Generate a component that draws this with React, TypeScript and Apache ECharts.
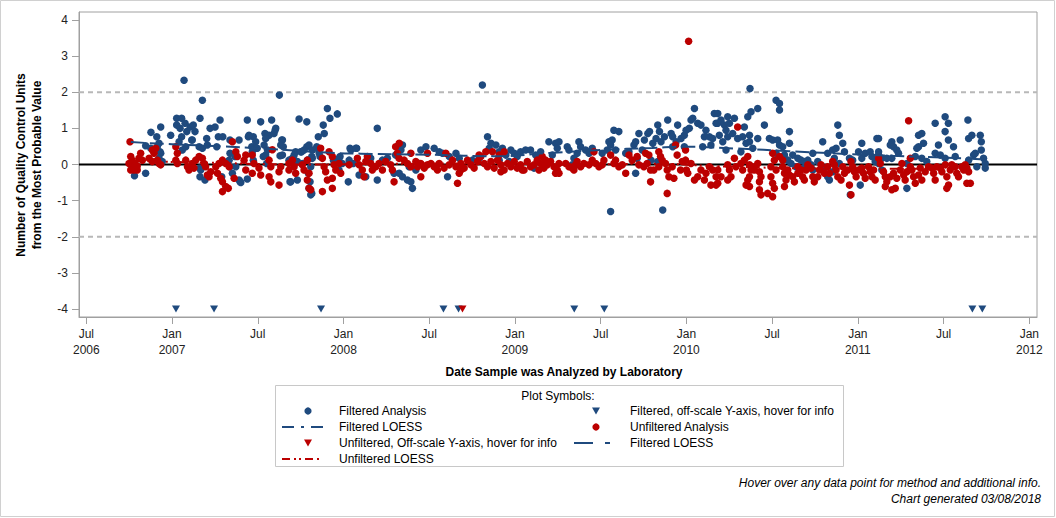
import React, { useEffect, useRef } from "react";
import * as echarts from "echarts";

const BLUE = "#1F4A7E";
const RED = "#BB0000";
const FONT = '"Liberation Sans", Arial, sans-serif';

const X_MIN = 2006.4574;
const X_MAX = 2012.0449;
const Y_MIN = -4.22;
const Y_MAX = 4.22;
const OFF_SCALE_Y = -4;

const xTickValues = [2006.5, 2007, 2007.5, 2008, 2008.5, 2009, 2009.5, 2010, 2010.5, 2011, 2011.5, 2012];
const yTickValues = [-4, -3, -2, -1, 0, 1, 2, 3, 4];
const refLines = [0, 2, -2];

// Filtered analysis points [decimal year, QC units]
const filtered2007 = [
  [2006.781, -0.31], [2006.846, -0.24], [2006.846, 0.52], [2006.877, 0.89], [2006.911, 0.77], [2006.934, 1.04],
  [2006.924, 0.59], [2006.93, 0.35], [2006.992, 0.81], [2007.027, 1.28], [2007.056, 1.28], [2007.07, 2.33],
  [2007.076, 1.14], [2007.047, 1.0], [2007.027, 1.09], [2007.086, 0.91], [2007.056, 0.77], [2007.105, 1.04],
  [2007.124, 1.09], [2007.134, 0.91], [2007.115, 0.68], [2007.163, 1.28], [2007.177, 1.78], [2007.202, 0.72],
  [2007.222, 1.0], [2007.251, 1.04], [2007.28, 1.23], [2007.27, 0.77], [2007.261, 0.49], [2007.296, 0.77],
  [2007.338, 0.68], [2007.338, 0.31], [2007.367, 0.22], [2007.163, -0.34], [2007.192, -0.43], [2007.163, -0.1],
  [2007.29, -0.34], [2007.338, -0.06], [2007.397, -0.48], [2006.876, 0.45], [2006.914, 0.49], [2006.934, 0.31],
  [2006.924, 0.17], [2006.943, 0.08], [2007.041, 0.63], [2007.08, 0.49], [2007.06, 0.4], [2007.158, 0.49],
  [2007.177, 0.45], [2007.206, 0.54], [2007.118, 0.68], [2007.333, 0.12], [2007.372, -0.06], [2007.352, -0.24],
  [2007.167, -0.15], [2007.439, 1.23], [2007.445, 0.77], [2007.474, 0.77], [2007.465, 0.49], [2007.49, 0.45],
  [2007.517, 1.18], [2007.542, 0.86], [2007.552, 0.77], [2007.581, 1.23], [2007.601, 0.95], [2007.626, 1.92],
  [2007.64, 0.68], [2007.649, 0.49], [2007.63, 0.24], [2007.474, 0.12], [2007.532, 0.22], [2007.552, 0.03],
  [2007.688, -0.48], [2007.707, 0.17], [2007.741, 1.26], [2007.786, 1.18], [2007.756, 0.35], [2007.786, 0.49],
  [2007.815, 0.22], [2007.844, 0.49], [2007.853, 0.77], [2007.882, 1.09], [2007.888, 0.86], [2007.906, 1.55],
  [2007.921, 1.28], [2007.964, 1.4], [2007.805, -0.48], [2007.795, -0.24], [2007.815, -0.8], [2007.863, 0.22],
  [2007.941, 0.12], [2007.98, 0.22], [2007.449, 0.81], [2007.488, 0.63], [2007.566, 0.81], [2007.546, 0.72],
  [2007.605, 1.0], [2007.595, 0.86], [2007.644, 0.68], [2007.634, 0.54], [2007.497, 0.45], [2007.468, 0.35],
  [2007.537, 0.54], [2007.557, 0.4], [2007.546, 0.26], [2007.391, 0.68], [2007.391, -0.43], [2007.644, 0.26],
  [2007.682, 0.12], [2007.712, 0.26], [2007.721, 0.35], [2007.75, 0.35], [2007.77, 0.4], [2007.799, 0.54],
  [2007.818, 0.4], [2007.848, 0.45], [2007.858, 0.31], [2007.702, 0.17], [2007.731, 0.08], [2007.76, 0.03],
  [2007.789, 0.12], [2007.818, 0.17], [2007.809, -0.06], [2007.692, -0.48], [2007.731, -0.43], [2007.809, -0.84],
  [2007.799, -0.66], [2007.401, -0.5], [2007.439, -0.4], [2007.974, 0.17], [2007.993, 0.03], [2007.974, -0.15],
];

const filtered2008 = [
  [2008.038, 0.45], [2008.077, 0.45], [2008.028, -0.48], [2008.057, 0.03], [2008.043, 0.4], [2008.072, 0.45],
  [2008.033, 0.12], [2008.197, 1.0], [2008.091, -0.29], [2008.13, -0.34], [2008.197, -0.43], [2008.159, 0.17],
  [2008.227, 0.12], [2008.256, 0.17], [2008.304, 0.26], [2008.295, -0.24], [2008.81, 2.2], [2008.325, -0.24],
  [2008.344, -0.34], [2008.373, -0.43], [2008.393, -0.48], [2008.402, -0.66], [2008.335, 0.4], [2008.344, 0.54],
  [2008.451, 0.4], [2008.481, 0.49], [2008.529, 0.45], [2008.558, 0.35], [2008.578, 0.31], [2008.617, 0.22],
  [2008.656, 0.31], [2008.675, 0.17], [2008.383, -0.06], [2008.422, -0.15], [2008.442, 0.03], [2008.607, -0.34],
  [2008.84, 0.77], [2008.86, 0.59], [2008.85, 0.45], [2008.889, 0.54], [2008.908, 0.35], [2008.927, 0.45],
  [2008.947, 0.26], [2008.976, 0.4], [2008.996, 0.31], [2009.013, 0.22], [2009.033, 0.35], [2009.062, 0.4],
  [2009.091, 0.4], [2009.121, 0.26], [2009.15, 0.35], [2009.198, 0.63], [2009.237, 0.59], [2009.247, 0.45],
  [2009.218, 0.26], [2008.752, 0.12], [2008.791, 0.17], [2008.908, 0.12], [2008.967, 0.08], [2009.111, -0.1],
  [2009.179, 0.03],
];

const filtered2009 = [
  [2009.257, 0.63], [2009.305, 0.49], [2009.315, 0.4], [2009.373, 0.63], [2009.383, 0.49], [2009.412, 0.4],
  [2009.432, 0.31], [2009.451, 0.45], [2009.363, 0.31], [2009.344, 0.17], [2009.334, -0.01], [2009.509, 0.31],
  [2009.538, 0.4], [2009.548, 0.63], [2009.567, 0.68], [2009.558, 0.54], [2009.577, 0.95], [2009.606, 0.91],
  [2009.587, 0.4], [2009.558, -1.3], [2009.646, 0.31], [2009.665, 0.35], [2009.694, 0.54], [2009.704, 0.63],
  [2009.723, 0.86], [2009.742, 0.4], [2009.713, 0.17], [2009.704, -0.24], [2009.755, 0.68], [2009.775, 0.86],
  [2009.785, 0.91], [2009.804, 0.59], [2009.823, 0.72], [2009.833, 1.09], [2009.843, 0.91], [2009.852, 0.63],
  [2009.872, 0.77], [2009.891, 1.23], [2009.911, 0.86], [2009.92, 0.77], [2009.94, 0.63], [2009.949, 1.09],
  [2009.969, 0.72], [2009.988, 0.81], [2009.998, 0.95], [2010.017, 1.0], [2010.027, 1.23], [2010.037, 1.28],
  [2010.047, 1.55], [2010.066, 1.14], [2010.085, 1.09], [2010.105, 0.77], [2010.114, 0.95], [2010.134, 0.77],
  [2010.143, 0.54], [2010.163, 1.41], [2010.173, 1.14], [2010.153, 0.72], [2010.095, 0.49], [2009.988, 0.49],
  [2009.92, 0.49], [2009.862, -1.26], [2009.794, 0.12], [2009.833, 0.08],
];

const filtered2010 = [
  [2010.183, 1.41], [2010.183, 1.14], [2010.202, 1.23], [2010.222, 1.09], [2010.251, 1.14], [2010.231, 0.95],
  [2010.192, 0.81], [2010.212, 0.63], [2010.241, 0.77], [2010.27, 0.86], [2010.28, 1.28], [2010.241, 1.32],
  [2010.231, 0.4], [2010.299, 0.72], [2010.328, 0.77], [2010.348, 0.59], [2010.368, 0.63], [2010.338, 1.04],
  [2010.358, 1.32], [2010.377, 1.46], [2010.416, 1.55], [2010.368, 0.81], [2010.387, 0.45], [2010.416, 0.72],
  [2010.455, 1.09], [2010.318, 0.35], [2010.371, 2.1], [2010.523, 1.78], [2010.543, 1.69], [2010.543, 1.51],
  [2010.484, 0.72], [2010.503, 0.68], [2010.532, 0.68], [2010.543, 0.54], [2010.562, 0.49], [2010.601, 0.91],
  [2010.601, 0.59], [2010.523, 0.31], [2010.572, 0.26], [2010.591, 0.12], [2010.62, 0.26], [2010.65, 0.17],
  [2010.669, 0.12], [2010.689, 0.08], [2010.708, 0.12], [2010.737, 0.31], [2010.727, -0.01], [2010.766, 0.08],
  [2010.795, 0.63], [2010.824, 0.31], [2010.853, 0.4], [2010.873, 0.45], [2010.883, 1.09], [2010.892, 0.81],
  [2010.912, 0.59], [2010.922, 0.35], [2010.863, 0.17], [2010.892, 0.03], [2010.951, 0.17], [2010.97, 0.12],
  [2011.023, 0.59], [2011.004, 0.35], [2011.023, 0.17], [2011.043, 0.31], [2011.072, 0.35], [2011.082, 0.22],
  [2011.111, 0.72], [2011.101, 0.08], [2011.121, 0.35], [2010.61, 0.03], [2010.639, -0.06], [2010.659, -0.15],
  [2010.678, -0.1], [2010.708, -0.06], [2010.737, -0.15], [2010.805, -0.1], [2010.824, -0.34], [2010.834, -0.43],
  [2010.853, -0.2], [2011.014, -0.57], [2010.956, -0.84],
];

const filtered2011 = [
  [2011.121, 0.72], [2011.198, 0.63], [2011.189, 0.54], [2011.208, 0.49], [2011.247, 0.68], [2011.227, 0.4],
  [2011.237, 0.31], [2011.121, 0.26], [2011.14, 0.17], [2011.169, 0.17], [2011.198, 0.17], [2011.354, 0.81],
  [2011.373, 0.86], [2011.383, 0.59], [2011.354, 0.49], [2011.344, 0.45], [2011.373, 0.17], [2011.402, 0.08],
  [2011.335, 0.22], [2011.286, 0.03], [2011.451, 1.14], [2011.509, 1.32], [2011.528, 1.14], [2011.509, 0.91],
  [2011.528, 0.68], [2011.47, 0.54], [2011.451, 0.31], [2011.481, 0.26], [2011.509, 0.17], [2011.558, 0.49],
  [2011.568, 0.22], [2011.642, 1.23], [2011.646, 0.72], [2011.665, 0.81], [2011.675, 0.26], [2011.685, 0.31],
  [2011.646, 0.12], [2011.714, 0.81], [2011.72, 0.63], [2011.72, 0.4], [2011.733, 0.17], [2011.743, 0.03],
  [2011.743, -0.1], [2011.694, -0.06], [2011.286, -0.66], [2011.121, 0.03], [2011.14, -0.15],
];

// Unfiltered analysis points [decimal year, QC units]
const unfiltered2007 = [
  [2006.755, 0.63], [2006.759, 0.22], [2006.768, 0.12], [2006.749, 0.03], [2006.768, -0.06], [2006.759, -0.15],
  [2006.778, -0.1], [2006.797, -0.15], [2006.788, -0.01], [2006.807, 0.17], [2006.817, 0.31], [2006.827, 0.12],
  [2006.866, 0.17], [2006.885, 0.4], [2006.905, 0.45], [2006.895, 0.31], [2006.914, 0.12], [2006.924, 0.03],
  [2006.934, -0.01], [2006.885, 0.08], [2007.022, 0.49], [2007.031, 0.31], [2007.022, 0.12], [2007.031, 0.03],
  [2007.08, 0.12], [2007.09, -0.06], [2007.099, -0.15], [2007.118, 0.03], [2007.128, -0.1], [2007.138, 0.12],
  [2007.158, 0.22], [2007.177, 0.17], [2007.187, 0.03], [2007.196, -0.06], [2007.216, -0.34], [2007.206, -0.29],
  [2007.226, -0.2], [2007.255, -0.06], [2007.274, 0.03], [2007.294, 0.12], [2007.313, 0.03], [2007.333, -0.06],
  [2007.265, -0.24], [2007.284, -0.38], [2007.294, -0.48], [2007.313, -0.61], [2007.294, -0.75], [2007.352, 0.63],
  [2007.362, -0.38], [2007.372, 0.35], [2007.381, 0.22], [2007.328, -0.66], [2006.778, -0.15], [2006.797, -0.04],
  [2007.43, 0.26], [2007.468, 0.26], [2007.42, 0.12], [2007.478, 0.03], [2007.43, -0.15], [2007.468, -0.24],
  [2007.507, -0.1], [2007.517, -0.29], [2007.566, 0.12], [2007.576, -0.06], [2007.566, -0.34], [2007.576, -0.48],
  [2007.624, -0.57], [2007.624, -0.2], [2007.634, -0.06], [2007.682, 0.03], [2007.682, -0.15], [2007.702, 0.12],
  [2007.712, -0.06], [2007.721, -0.24], [2007.76, -0.01], [2007.77, -0.15], [2007.789, 0.12], [2007.799, -0.24],
  [2007.789, -0.43], [2007.799, -0.66], [2007.809, -0.7], [2007.867, 0.45], [2007.877, 0.17], [2007.887, -0.06],
  [2007.896, -0.2], [2007.906, -0.43], [2007.877, -0.75], [2007.916, 0.35], [2007.935, 0.22], [2007.945, -0.01],
  [2007.955, -0.15], [2007.935, -0.38], [2007.935, -0.66], [2007.974, 0.03], [2007.984, -0.24], [2007.585, 0.41],
];

const unfiltered2008 = [
  [2008.033, -0.01], [2008.081, 0.17], [2008.091, -0.01], [2008.11, -0.15], [2008.12, -0.34], [2008.13, 0.08],
  [2008.139, 0.22], [2008.159, 0.03], [2008.168, -0.15], [2008.188, -0.06], [2008.207, 0.03], [2008.227, -0.15],
  [2008.246, 0.08], [2008.275, -0.01], [2008.285, -0.15], [2008.304, 0.49], [2008.314, 0.31], [2008.324, 0.17],
  [2008.295, -0.48], [2008.325, 0.59], [2008.393, 0.31], [2008.49, 0.31], [2008.597, 0.31], [2008.354, 0.12],
  [2008.373, 0.03], [2008.393, -0.06], [2008.422, 0.08], [2008.432, -0.06], [2008.451, 0.03], [2008.471, -0.1],
  [2008.49, -0.01], [2008.51, 0.03], [2008.529, -0.06], [2008.548, -0.15], [2008.558, 0.03], [2008.587, -0.1],
  [2008.617, -0.01], [2008.636, 0.12], [2008.656, -0.06], [2008.685, 0.03], [2008.704, -0.1], [2008.723, 0.12],
  [2008.743, -0.01], [2008.762, -0.1], [2008.782, 0.08], [2008.801, 0.22], [2008.821, 0.03], [2008.84, -0.06],
  [2008.86, 0.08], [2008.879, -0.1], [2008.898, 0.12], [2008.918, -0.01], [2008.937, -0.15], [2008.957, 0.03],
  [2008.976, -0.06], [2008.996, 0.08], [2009.013, -0.1], [2009.033, -0.01], [2009.053, -0.15], [2009.072, 0.08],
  [2009.091, -0.06], [2009.111, -0.01], [2009.13, 0.12], [2009.15, 0.03], [2009.169, -0.1], [2009.189, -0.01],
  [2009.208, 0.08], [2009.228, -0.06], [2009.247, -0.15], [2008.451, -0.34], [2008.665, -0.52], [2008.675, -0.24],
  [2008.685, -0.15], [2008.791, 0.26], [2008.83, 0.35], [2008.869, 0.35], [2008.908, 0.26], [2008.937, 0.35],
  [2008.918, -0.2], [2009.043, -0.15], [2009.14, -0.15], [2009.237, -0.24], [2009.179, 0.12], [2009.159, 0.22],
];

const unfiltered2009 = [
  [2009.257, 0.03], [2009.257, -0.24], [2009.296, 0.03], [2009.315, -0.06], [2009.334, -0.1], [2009.354, -0.01],
  [2009.363, 0.08], [2009.344, -0.15], [2009.383, -0.06], [2009.402, 0.03], [2009.432, -0.01], [2009.451, 0.12],
  [2009.461, 0.35], [2009.471, 0.03], [2009.49, -0.06], [2009.509, -0.01], [2009.519, 0.12], [2009.558, 0.26],
  [2009.577, 0.03], [2009.587, 0.12], [2009.606, -0.06], [2009.626, -0.01], [2009.646, -0.24], [2009.665, 0.26],
  [2009.684, 0.12], [2009.713, 0.22], [2009.723, -0.01], [2009.752, -0.06], [2009.762, 0.31], [2009.781, 0.26],
  [2009.771, 0.03], [2009.791, -0.15], [2009.81, -0.15], [2009.791, -0.48], [2009.839, 0.35], [2009.849, 0.22],
  [2009.839, -0.06], [2009.859, 0.12], [2009.878, 0.03], [2009.888, -0.15], [2009.898, -0.34], [2009.917, -0.06],
  [2009.927, -0.38], [2009.937, 0.54], [2009.946, 0.26], [2009.966, -0.15], [2009.976, 0.08], [2009.995, 0.12],
  [2009.995, 0.4], [2010.0, -0.15], [2010.008, -0.24], [2010.027, 0.03], [2010.047, -0.43], [2010.066, -0.34],
  [2010.085, -0.15], [2010.105, -0.43], [2010.114, -0.24], [2010.134, -0.06], [2010.153, -0.15], [2010.173, -0.34],
  [2010.173, -0.57], [2010.143, -0.57], [2009.888, -0.8], [2010.013, 3.41],
];

const unfiltered2010 = [
  [2010.299, 1.04], [2010.183, -0.15], [2010.202, -0.34], [2010.183, -0.52], [2010.241, -0.01], [2010.251, -0.15],
  [2010.241, -0.43], [2010.26, -0.34], [2010.28, 0.17], [2010.289, -0.06], [2010.318, 0.03], [2010.328, -0.15],
  [2010.338, 0.12], [2010.358, 0.22], [2010.368, -0.01], [2010.377, -0.15], [2010.368, -0.34], [2010.358, -0.43],
  [2010.348, -0.57], [2010.368, -0.61], [2010.387, -0.06], [2010.397, -0.15], [2010.416, 0.03], [2010.426, -0.2],
  [2010.435, -0.34], [2010.426, -0.48], [2010.426, -0.7], [2010.435, -0.84], [2010.474, -0.8], [2010.503, -0.89],
  [2010.503, 0.31], [2010.513, 0.12], [2010.493, -0.06], [2010.523, -0.15], [2010.493, -0.34], [2010.503, -0.52],
  [2010.513, -0.66], [2010.543, 0.22], [2010.562, 0.12], [2010.562, -0.06], [2010.572, -0.24], [2010.581, -0.43],
  [2010.572, -0.61], [2010.591, -0.15], [2010.601, -0.29], [2010.62, -0.34], [2010.63, -0.48], [2010.65, -0.24],
  [2010.65, -0.06], [2010.669, -0.15], [2010.678, -0.34], [2010.688, -0.43], [2010.698, -0.15], [2010.708, -0.01],
  [2010.727, -0.1], [2010.737, -0.34], [2010.746, -0.48], [2010.766, -0.34], [2010.776, -0.15], [2010.785, -0.01],
  [2010.805, -0.24], [2010.824, -0.06], [2010.834, -0.24], [2010.853, 0.08], [2010.863, -0.01], [2010.873, -0.15],
  [2010.883, -0.34], [2010.902, -0.43], [2010.912, -0.06], [2010.922, -0.24], [2010.941, -0.15], [2010.951, -0.57],
  [2010.96, 0.08], [2010.97, -0.06], [2010.98, -0.2], [2010.99, -0.34], [2011.004, -0.15], [2011.023, -0.1],
  [2011.033, -0.24], [2011.043, -0.38], [2011.062, -0.06], [2011.072, -0.2], [2011.082, -0.34], [2011.092, -0.15],
  [2011.101, -0.43], [2010.96, -0.84],
];

const unfiltered2011 = [
  [2011.296, 1.21], [2011.121, 0.17], [2011.131, 0.03], [2011.15, -0.2], [2011.16, -0.34], [2011.169, -0.48],
  [2011.16, -0.61], [2011.189, -0.34], [2011.208, -0.24], [2011.198, -0.7], [2011.218, -0.66], [2011.227, -0.38],
  [2011.247, -0.15], [2011.257, 0.03], [2011.267, -0.29], [2011.276, -0.43], [2011.286, -0.2], [2011.306, -0.06],
  [2011.306, 0.17], [2011.315, -0.15], [2011.325, -0.34], [2011.335, -0.52], [2011.354, -0.29], [2011.364, -0.1],
  [2011.373, -0.43], [2011.393, -0.2], [2011.412, -0.06], [2011.432, -0.1], [2011.442, -0.24], [2011.451, -0.43],
  [2011.461, -0.06], [2011.481, -0.1], [2011.49, -0.2], [2011.51, -0.01], [2011.519, -0.34], [2011.529, -0.57],
  [2011.519, -0.66], [2011.539, -0.15], [2011.548, -0.01], [2011.568, -0.06], [2011.577, -0.24], [2011.587, -0.34],
  [2011.607, -0.06], [2011.617, -0.15], [2011.626, -0.01], [2011.636, -0.1], [2011.646, -0.2], [2011.656, -0.52],
  [2011.636, -0.52],
];

// Off-scale analyses (drawn at the bottom of the axis)
const filteredOffScale = [2007.023, 2007.245, 2007.869, 2008.583, 2008.671, 2009.346, 2009.521, 2011.668, 2011.726];
const unfilteredOffScale = [2008.694];

// LOESS curves [decimal year, QC units]
const filteredLoess = [
  [2006.76, 0.62], [2007.0, 0.56], [2007.3, 0.5], [2007.6, 0.42], [2007.9, 0.33], [2008.1, 0.3], [2008.5, 0.27],
  [2008.9, 0.23], [2009.2, 0.32], [2009.5, 0.4], [2009.8, 0.46], [2010.0, 0.49], [2010.3, 0.44], [2010.6, 0.37],
  [2010.9, 0.3], [2011.2, 0.24], [2011.5, 0.19], [2011.75, 0.14],
];
const unfilteredLoess = [
  [2006.76, 0.1], [2007.2, 0.05], [2007.8, 0.0], [2008.3, 0.02], [2008.8, 0.03], [2009.3, 0.0], [2009.8, 0.02],
  [2010.2, -0.05], [2010.6, -0.1], [2011.0, -0.12], [2011.4, -0.12], [2011.66, -0.1],
];

const filteredPts = [...filtered2007, ...filtered2008, ...filtered2009, ...filtered2010, ...filtered2011];
const unfilteredPts = [...unfiltered2007, ...unfiltered2008, ...unfiltered2009, ...unfiltered2010, ...unfiltered2011];

function xLabel(v: number): string {
  const yr = Math.floor(v + 1e-6);
  const isJul = v - yr > 0.25;
  if (isJul) return v < 2007 ? "Jul\n" + yr : "Jul";
  return "Jan\n" + yr;
}

function legendGraphics(): any[] {
  const txt = (text: string, x: number, y: number, align = "left") => ({
    type: "text",
    x,
    y,
    silent: true,
    style: { text, font: `12px ${FONT}`, fill: "#000", textAlign: align, align, textVerticalAlign: "middle", verticalAlign: "middle" },
  });
  const tri = (cx: number, cy: number, color: string) => ({
    type: "polygon",
    silent: true,
    shape: { points: [[cx - 4, cy - 3.5], [cx + 4, cy - 3.5], [cx, cy + 3.5]] },
    style: { fill: color },
  });
  const dot = (cx: number, cy: number, color: string) => ({
    type: "circle",
    silent: true,
    shape: { cx, cy, r: 3.6 },
    style: { fill: color },
  });
  const seg = (x1: number, x2: number, y: number, color: string, dash: number[]) => ({
    type: "line",
    silent: true,
    shape: { x1, y1: y, x2, y2: y },
    style: { stroke: color, lineWidth: 2, lineDash: dash },
  });
  const r1 = 411, r2 = 427, r3 = 443, r4 = 459;
  const lx = 308, ltx = 339, rx = 596, rtx = 630;
  return [
    { type: "rect", silent: true, shape: { x: 275.5, y: 385.5, width: 568, height: 81 }, style: { fill: "#fff", stroke: "#C8C8C8", lineWidth: 1 } },
    txt("Plot Symbols:", 558, 396, "center"),
    dot(lx, r1, BLUE),
    txt("Filtered Analysis", ltx, r1),
    tri(rx, r1, BLUE),
    txt("Filtered, off-scale Y-axis, hover for info", rtx, r1),
    seg(282, 329, r2, BLUE, [12, 7, 3, 7]),
    txt("Filtered LOESS", ltx, r2),
    dot(rx, r2, RED),
    txt("Unfiltered Analysis", rtx, r2),
    tri(lx, r3, RED),
    txt("Unfiltered, Off-scale Y-axis, hover for info", ltx, r3),
    seg(574, 610, r3, BLUE, [19, 12]),
    txt("Filtered LOESS", rtx, r3),
    seg(282, 322, r4, RED, [8, 4, 2, 3, 2, 4]),
    txt("Unfiltered LOESS", ltx, r4),
  ];
}

export default function App() {
  const ref = useRef<HTMLDivElement>(null);

  useEffect(() => {
    document.body.style.margin = "0";
    const chart = echarts.init(ref.current!, null, { renderer: "svg" });

    const refSeries = refLines.map((v) => ({
      type: "line",
      data: [[X_MIN, v], [X_MAX, v]],
      showSymbol: false,
      silent: true,
      z: 1,
      lineStyle: v === 0 ? { color: "#000", width: 2 } : { color: "#B8B8B8", width: 2, type: [5, 4] },
    }));

    const option: any = {
      animation: false,
      backgroundColor: "#fff",
      textStyle: { fontFamily: FONT },
      grid: { left: 79, right: 19, top: 12, bottom: 201, show: true, borderColor: "#A0A0A0", borderWidth: 1, backgroundColor: "transparent" },
      xAxis: {
        type: "value",
        min: X_MIN,
        max: X_MAX,
        axisLine: { show: true, onZero: false, lineStyle: { color: "#A0A0A0" } },
        axisTick: { show: true, length: 7, lineStyle: { color: "#A0A0A0" }, customValues: xTickValues },
        axisLabel: { customValues: xTickValues, formatter: xLabel, color: "#222", fontSize: 12, fontFamily: FONT, lineHeight: 16, margin: 9 },
        splitLine: { show: false },
      },
      yAxis: {
        type: "value",
        min: Y_MIN,
        max: Y_MAX,
        axisLine: { show: true, onZero: false, lineStyle: { color: "#A0A0A0" } },
        axisTick: { show: true, length: 7, lineStyle: { color: "#A0A0A0" }, customValues: yTickValues },
        axisLabel: { customValues: yTickValues, color: "#222", fontSize: 12, fontFamily: FONT, margin: 11 },
        splitLine: { show: false },
      },
      series: [
        ...refSeries,
        {
          name: "Filtered Analysis",
          type: "scatter",
          data: filteredPts,
          symbol: "circle",
          symbolSize: 7.5,
          itemStyle: { color: BLUE, opacity: 1 },
          z: 2,
        },
        {
          name: "Unfiltered Analysis",
          type: "scatter",
          data: unfilteredPts,
          symbol: "circle",
          symbolSize: 7.5,
          itemStyle: { color: RED, opacity: 1 },
          z: 3,
        },
        {
          name: "Filtered LOESS",
          type: "line",
          data: filteredLoess,
          smooth: true,
          showSymbol: false,
          z: 4,
          lineStyle: { color: BLUE, width: 2, type: [14, 5] },
        },
        {
          name: "Unfiltered LOESS",
          type: "line",
          data: unfilteredLoess,
          smooth: true,
          showSymbol: false,
          z: 4,
          lineStyle: { color: RED, width: 2, type: [8, 4, 2, 3, 2, 4] },
        },
        {
          name: "Filtered, off-scale",
          type: "scatter",
          data: filteredOffScale.map((x) => [x, OFF_SCALE_Y]),
          symbol: "triangle",
          symbolRotate: 180,
          symbolSize: [8, 7],
          itemStyle: { color: BLUE, opacity: 1 },
          z: 5,
        },
        {
          name: "Unfiltered, off-scale",
          type: "scatter",
          data: unfilteredOffScale.map((x) => [x, OFF_SCALE_Y]),
          symbol: "triangle",
          symbolRotate: 180,
          symbolSize: [8, 7],
          itemStyle: { color: RED, opacity: 1 },
          z: 5,
        },
      ],
      graphic: [
        { type: "rect", silent: true, shape: { x: 0.5, y: 0.5, width: 1054, height: 516 }, style: { fill: "none", stroke: "#D0D0D0", lineWidth: 1 } },
        {
          type: "text",
          x: 29,
          y: 165,
          rotation: Math.PI / 2,
          silent: true,
          style: {
            text: "Number of Quality Control Units\nfrom the Most Probable Value",
            font: `bold 12px ${FONT}`,
            lineHeight: 16.5,
            fill: "#000",
            textAlign: "center",
            align: "center",
            textVerticalAlign: "middle",
            verticalAlign: "middle",
          },
        },
        {
          type: "text",
          x: 564,
          y: 372,
          silent: true,
          style: { text: "Date Sample was Analyzed by Laboratory", font: `bold 12px ${FONT}`, fill: "#000", textAlign: "center", align: "center", textVerticalAlign: "middle", verticalAlign: "middle" },
        },
        ...legendGraphics(),
        {
          type: "text",
          x: 1041,
          y: 483,
          silent: true,
          style: { text: "Hover over any data point for method and additional info.", font: `italic 12px ${FONT}`, fill: "#000", textAlign: "right", align: "right", textVerticalAlign: "middle", verticalAlign: "middle" },
        },
        {
          type: "text",
          x: 1041,
          y: 499,
          silent: true,
          style: { text: "Chart generated 03/08/2018", font: `italic 12px ${FONT}`, fill: "#000", textAlign: "right", align: "right", textVerticalAlign: "middle", verticalAlign: "middle" },
        },
      ],
    };

    chart.setOption(option);
    return () => chart.dispose();
  }, []);

  return <div ref={ref} style={{ width: 1056, height: 518 }} />;
}
